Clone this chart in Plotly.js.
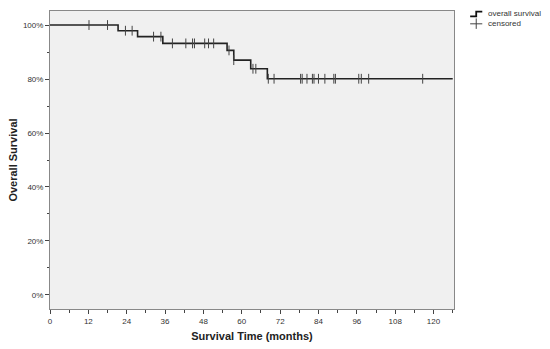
<!DOCTYPE html>
<html>
<head>
<meta charset="utf-8">
<script src="https://cdn.plot.ly/plotly-3.0.1.min.js"></script>
<style>body{margin:0;background:#fff}#chart{width:550px;height:349px}</style>
</head>
<body>
<div id="chart"></div>
<script>
// Kaplan-Meier step points (months, % survival)
var stepTimes = [0, 21.3, 27.4, 35.3, 55.4, 57.5, 62.8, 68.0, 126.0];
var stepSurv  = [100, 97.9, 95.7, 93.2, 90.6, 87.0, 83.8, 80.1, 80.1];
// censored observation times (months)
var censoredTimes = [12.2, 18.0, 23.6, 25.7, 32.4, 34.7, 38.3, 42.5, 44.6, 45.2, 48.4, 49.6, 51.2,
  56.0, 57.5, 63.5, 64.4, 68.3, 70.1, 78.4, 78.9, 80.4, 82.1, 82.6, 84.0, 86.0, 88.8, 89.3,
  96.6, 97.4, 99.7, 116.6];
var xTickVals = [0, 12, 24, 36, 48, 60, 72, 84, 96, 108, 120];
var yTickVals = [0, 20, 40, 60, 80, 100];
var yTickText = ['0%', '20%', '40%', '60%', '80%', '100%'];

function survAt(t) {
  var s = stepSurv[0];
  for (var i = 0; i < stepTimes.length; i++) { if (stepTimes[i] <= t) s = stepSurv[i]; }
  return s;
}
var censoredSurv = censoredTimes.map(survAt);

var traces = [
  {x: stepTimes, y: stepSurv, type: 'scatter', mode: 'lines', line: {shape: 'hv', color: '#222', width: 1.6},
   hoverinfo: 'skip', showlegend: false},
  {x: censoredTimes, y: censoredSurv, type: 'scatter', mode: 'markers',
   marker: {symbol: 'line-ns', size: 7, line: {color: '#444', width: 1}}, showlegend: false}
];

var font = {family: 'Liberation Sans, Arial, sans-serif', size: 8, color: '#333'};
var titleFont = {family: 'Liberation Sans, Arial, sans-serif', size: 11, color: '#222', weight: 'bold'};
var layout = {
  width: 550, height: 349,
  margin: {l: 50, r: 96, t: 11, b: 40},
  paper_bgcolor: '#fff', plot_bgcolor: '#f0f0f0',
  font: font,
  xaxis: {range: [0, 126.4], tickvals: xTickVals, ticks: 'outside', ticklen: 4, tickcolor: '#444',
    showgrid: false, zeroline: false, showline: true, linecolor: '#888', mirror: true,
    minor: {dtick: 6, tick0: 0, ticks: 'outside', ticklen: 2.5, tickcolor: '#444', showgrid: false},
    title: {text: 'Survival Time (months)', font: titleFont, standoff: 7},
    tickfont: font},
  yaxis: {range: [-5.2, 105.2], tickvals: yTickVals, ticktext: yTickText, ticks: 'outside', ticklen: 4, tickcolor: '#444',
    showgrid: false, zeroline: false, showline: true, linecolor: '#888', mirror: true,
    minor: {dtick: 10, tick0: 0, ticks: 'outside', ticklen: 2.5, tickcolor: '#444', showgrid: false},
    title: {text: 'Overall Survival', font: titleFont, standoff: 3},
    tickfont: font},
  shapes: [
    {type: 'path', xref: 'paper', yref: 'paper', path: 'M 1.04 0.982 L 1.055 0.982 L 1.055 0.998 L 1.07 0.998',
     line: {color: '#111', width: 1.8}},
    {type: 'line', xref: 'paper', yref: 'paper', x0: 1.04, x1: 1.07, y0: 0.957, y1: 0.957, line: {color: '#444', width: 1}},
    {type: 'line', xref: 'paper', yref: 'paper', x0: 1.055, x1: 1.055, y0: 0.94, y1: 0.975, line: {color: '#444', width: 1}}
  ],
  annotations: [
    {xref: 'paper', yref: 'paper', x: 1.078, y: 0.99, xanchor: 'left', yanchor: 'middle', text: 'overall survival', showarrow: false, font: {family: 'Liberation Sans, Arial, sans-serif', size: 8, color: '#333'}},
    {xref: 'paper', yref: 'paper', x: 1.078, y: 0.957, xanchor: 'left', yanchor: 'middle', text: 'censored', showarrow: false, font: {family: 'Liberation Sans, Arial, sans-serif', size: 8, color: '#333'}}
  ]
};
Plotly.newPlot('chart', traces, layout, {displayModeBar: false, staticPlot: true});
</script>
</body>
</html>
